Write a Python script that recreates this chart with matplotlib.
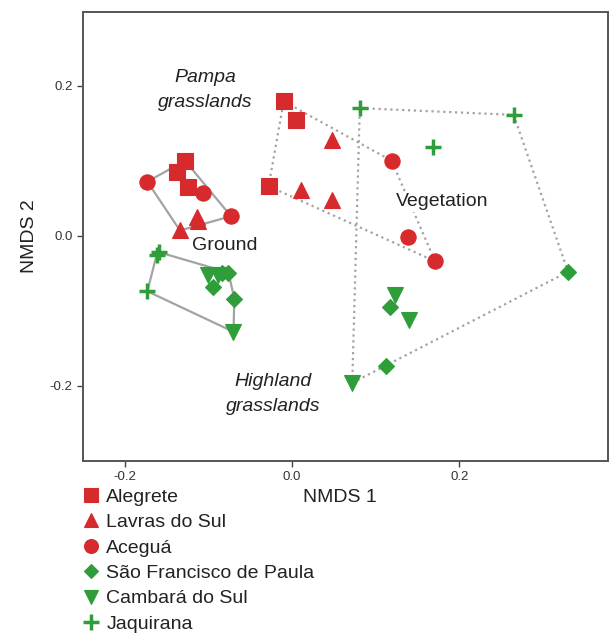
import matplotlib
matplotlib.use("Agg")
import matplotlib.pyplot as plt
from matplotlib.lines import Line2D

plt.rcParams["font.family"] = ["Liberation Sans", "DejaVu Sans"]

# NMDS scores, per site (ground and vegetation samples)
alegrete_ground_x = [-0.128, -0.138, -0.125]
alegrete_ground_y = [0.100, 0.085, 0.065]
lavras_ground_x = [-0.114, -0.113, -0.134]
lavras_ground_y = [0.025, 0.019, 0.007]
acegua_ground_x = [-0.173, -0.106, -0.073]
acegua_ground_y = [0.072, 0.057, 0.026]
sfp_ground_x = [-0.076, -0.094, -0.069, -0.084]
sfp_ground_y = [-0.049, -0.068, -0.084, -0.050]
cambara_ground_x = [-0.070, -0.100, -0.088]
cambara_ground_y = [-0.128, -0.052, -0.052]
jaquirana_ground_x = [-0.159, -0.162, -0.173]
jaquirana_ground_y = [-0.022, -0.026, -0.074]

alegrete_veg_x = [-0.010, 0.005, -0.028]
alegrete_veg_y = [0.179, 0.154, 0.066]
lavras_veg_x = [0.048, 0.011, 0.048]
lavras_veg_y = [0.128, 0.061, 0.047]
acegua_veg_x = [0.119, 0.139, 0.171]
acegua_veg_y = [0.100, -0.002, -0.034]
sfp_veg_x = [0.330, 0.112, 0.117]
sfp_veg_y = [-0.048, -0.173, -0.095]
cambara_veg_x = [0.072, 0.123, 0.140]
cambara_veg_y = [-0.196, -0.079, -0.112]
jaquirana_veg_x = [0.081, 0.265, 0.169]
jaquirana_veg_y = [0.170, 0.161, 0.118]

site_names = ["Alegrete", "Lavras do Sul", "Aceguá",
              "São Francisco de Paula", "Cambará do Sul", "Jaquirana"]

RED = "#d62a2c"
GREEN = "#2f9e3a"
HULL = "#a3a3a3"
TXT = "#222222"

styles = [
    dict(marker="s", color=RED, ms=11),
    dict(marker="^", color=RED, ms=11),
    dict(marker="o", color=RED, ms=11),
    dict(marker="D", color=GREEN, ms=8),
    dict(marker="v", color=GREEN, ms=11),
    dict(marker="+", color=GREEN, ms=12, mew=2.5),
]

ground = [
    (alegrete_ground_x, alegrete_ground_y),
    (lavras_ground_x, lavras_ground_y),
    (acegua_ground_x, acegua_ground_y),
    (sfp_ground_x, sfp_ground_y),
    (cambara_ground_x, cambara_ground_y),
    (jaquirana_ground_x, jaquirana_ground_y),
]
veg = [
    (alegrete_veg_x, alegrete_veg_y),
    (lavras_veg_x, lavras_veg_y),
    (acegua_veg_x, acegua_veg_y),
    (sfp_veg_x, sfp_veg_y),
    (cambara_veg_x, cambara_veg_y),
    (jaquirana_veg_x, jaquirana_veg_y),
]


def convex_hull(xs, ys):
    # monotone chain, returns closed polygon
    pts = sorted(set(zip(xs, ys)))

    def cross(o, a, b):
        return (a[0] - o[0]) * (b[1] - o[1]) - (a[1] - o[1]) * (b[0] - o[0])

    lower, upper = [], []
    for p in pts:
        while len(lower) >= 2 and cross(lower[-2], lower[-1], p) <= 0:
            lower.pop()
        lower.append(p)
    for p in reversed(pts):
        while len(upper) >= 2 and cross(upper[-2], upper[-1], p) <= 0:
            upper.pop()
        upper.append(p)
    hull = lower[:-1] + upper[:-1]
    hull.append(hull[0])
    return [p[0] for p in hull], [p[1] for p in hull]


def draw_hull(ax, groups, ls):
    xs = [x for g in groups for x in g[0]]
    ys = [y for g in groups for y in g[1]]
    hx, hy = convex_hull(xs, ys)
    ax.plot(hx, hy, color=HULL, lw=1.6, ls=ls, zorder=1)


fig = plt.figure(figsize=(6.10, 6.34), dpi=100)
ax = fig.add_axes([0.136, 0.273, 0.861, 0.708])

# hulls: Pampa (red) and Highland (green), ground solid, vegetation dotted
draw_hull(ax, ground[:3], "-")
draw_hull(ax, ground[3:], "-")
draw_hull(ax, veg[:3], ":")
draw_hull(ax, veg[3:], ":")

for (gx, gy), (vx, vy), st in zip(ground, veg, styles):
    for x, y in [(gx, gy), (vx, vy)]:
        ax.plot(x, y, ls="none", marker=st["marker"], ms=st["ms"],
                color=st["color"], mew=st.get("mew", 0.8),
                mec=st["color"], zorder=3)

ax.text(-0.104, 0.194, "Pampa\ngrasslands", style="italic", fontsize=14,
        ha="center", va="center", color=TXT, linespacing=1.6)
ax.text(-0.023, -0.211, "Highland\ngrasslands", style="italic", fontsize=14,
        ha="center", va="center", color=TXT, linespacing=1.6)
ax.text(-0.081, -0.013, "Ground", fontsize=14, ha="center", va="center",
        color=TXT)
ax.text(0.180, 0.045, "Vegetation", fontsize=14, ha="center", va="center",
        color=TXT, bbox=dict(facecolor="white", edgecolor="none", pad=1),
        zorder=2)

ax.set_xlim(-0.250, 0.378)
ax.set_ylim(-0.300, 0.298)
ax.set_xticks([-0.2, 0.0, 0.2])
ax.set_yticks([-0.2, 0.0, 0.2])
ax.set_xticklabels(["-0.2", "0.0", "0.2"])
ax.set_yticklabels(["-0.2", "0.0", "0.2"])
ax.tick_params(direction="out", length=4, width=1, labelsize=9.5,
               colors="#444444", labelcolor="#333333")
for sp in ax.spines.values():
    sp.set_color("#555555")
    sp.set_linewidth(1.4)

ax.set_xlabel("NMDS 1", fontsize=14, color=TXT)
ax.xaxis.set_label_coords(0.49, -0.062)
ax.set_ylabel("NMDS 2", fontsize=14, color=TXT)
ax.yaxis.set_label_coords(-0.086, 0.5)

handles = [Line2D([], [], ls="none", marker=st["marker"], color=st["color"],
                  ms=st["ms"] - 1, mew=st.get("mew", 0.8), mec=st["color"])
           for st in styles]
fig.legend(handles, site_names, loc="upper left",
           bbox_to_anchor=(0.133, 0.230), frameon=False, fontsize=14,
           handlelength=1.0, handletextpad=0.3, labelspacing=0.40,
           borderpad=0, borderaxespad=0, labelcolor=TXT)

fig.savefig("out.png", dpi=100)
